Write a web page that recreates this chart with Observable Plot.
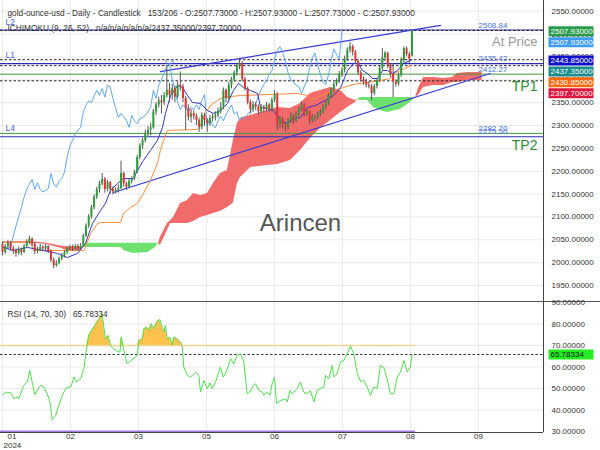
<!DOCTYPE html>
<html><head><meta charset="utf-8">
<script src="https://cdn.jsdelivr.net/npm/d3@7"></script>
<script src="https://cdn.jsdelivr.net/npm/@observablehq/plot@0.6"></script>
<style>
html,body{margin:0;padding:0;background:#fff;}
#wrap{width:600px;height:450px;overflow:hidden;}
#main svg,#rsi svg{display:block;}
#rsi{border-top:1px solid #555;}
</style></head><body><div id="wrap"><div id="main"></div><div id="rsi"></div></div>
<script>
// ---------------- data ----------------
const opens = [2040,2022,2035,2042,2030,2025,2020,2028,2022,2035,
2045,2052,2040,2025,2028,2033,2030,2035,2025,2005,
1993,1998,2008,2015,2022,2030,2033,2030,2035,2031,
2036,2058,2080,2100,2120,2143,2160,2172,2182,2160,
2175,2160,2155,2158,2162,2195,2172,2165,2178,2184,
2198,2230,2255,2267,2282,2290,2295,2330,2345,2354,
2350,2365,2377,2366,2381,2362,2388,2384,2359,2337,
2318,2326,2320,2311,2296,2322,2310,2304,2315,2318,
2322,2330,2340,2377,2359,2388,2400,2415,2430,2436,
2400,2380,2350,2335,2345,2340,2330,2340,2335,2345,
2335,2355,2368,2300,2315,2300,2295,2310,2320,2310,
2325,2335,2345,2325,2330,2310,2318,2315,2325,2330,
2340,2348,2365,2378,2390,2398,2412,2420,2445,2465,
2472,2460,2440,2415,2400,2395,2388,2385,2370,2385,
2398,2425,2448,2458,2432,2412,2395,2390,2410,2442,
2468,2455,2452];
const highs = [2045,2040,2048,2046,2036,2030,2034,2032,2040,2050,
2058,2054,2044,2034,2040,2038,2040,2037,2028,2010,
2004,2012,2020,2026,2034,2038,2038,2040,2040,2042,
2062,2085,2105,2125,2148,2165,2178,2195,2186,2180,
2178,2166,2164,2170,2222,2198,2176,2182,2188,2202,
2235,2260,2272,2290,2298,2305,2335,2350,2362,2366,
2372,2431,2392,2390,2386,2395,2417,2390,2364,2345,
2335,2332,2325,2316,2328,2326,2315,2322,2325,2330,
2338,2350,2382,2380,2395,2405,2420,2435,2447,2440,
2405,2384,2356,2352,2350,2345,2346,2344,2350,2348,
2360,2377,2372,2320,2318,2305,2315,2328,2324,2330,
2340,2352,2348,2335,2332,2324,2322,2330,2335,2345,
2352,2370,2382,2395,2402,2418,2426,2452,2470,2482,
2476,2464,2445,2420,2406,2402,2396,2390,2390,2402,
2430,2468,2462,2460,2436,2435,2400,2415,2448,2472,
2472,2460,2508.5];
const lows = [2015,2018,2030,2025,2018,2012,2016,2015,2020,2032,
2040,2035,2018,2020,2024,2026,2025,2020,2000,1987,
1990,1995,2004,2010,2018,2026,2024,2026,2026,2028,
2034,2055,2075,2095,2115,2138,2152,2168,2152,2155,
2150,2148,2150,2152,2160,2165,2158,2162,2172,2180,
2195,2225,2248,2262,2275,2278,2292,2322,2338,2325,
2344,2360,2350,2355,2350,2358,2375,2350,2289,2310,
2305,2312,2300,2285,2290,2298,2285,2298,2308,2310,
2316,2325,2335,2350,2355,2380,2395,2408,2422,2395,
2375,2345,2325,2328,2332,2322,2326,2328,2330,2328,
2330,2350,2289,2292,2292,2286,2290,2305,2302,2306,
2320,2330,2318,2320,2302,2305,2308,2312,2320,2326,
2335,2344,2360,2372,2385,2392,2405,2415,2440,2458,
2452,2435,2410,2395,2388,2382,2380,2354,2365,2380,
2394,2420,2440,2425,2405,2361,2384,2386,2405,2436,
2450,2436,2450];
const closes = [2022,2035,2042,2030,2025,2020,2028,2022,2035,2045,
2052,2040,2025,2028,2033,2030,2035,2025,2005,1993,
1998,2008,2015,2022,2030,2033,2030,2035,2031,2036,
2058,2080,2100,2120,2143,2160,2172,2182,2160,2175,
2160,2155,2158,2162,2195,2172,2165,2178,2184,2198,
2230,2255,2267,2282,2290,2295,2330,2345,2354,2350,
2365,2377,2366,2381,2362,2388,2384,2359,2337,2318,
2326,2320,2311,2296,2322,2310,2304,2315,2318,2322,
2330,2340,2377,2359,2388,2400,2415,2430,2436,2400,
2380,2350,2335,2345,2340,2330,2340,2335,2345,2335,
2355,2368,2300,2315,2300,2295,2310,2320,2310,2325,
2335,2345,2325,2330,2310,2318,2315,2325,2330,2340,
2348,2365,2378,2390,2398,2412,2420,2445,2465,2472,
2460,2440,2415,2400,2395,2388,2385,2370,2385,2398,
2425,2448,2458,2432,2412,2395,2390,2410,2442,2468,
2455,2445,2507.93];

const tenkanIdx = [0,4.1,9.3,15.2,20.4,24.1,27.8,30.8,33.4,36.4,38.2,40.1,42.7,44.9,48.6,50.1,52.3,54.9,57.5,59.4,60.5,62.4,65,66.8,68.7,70.5,73.5,76.1,78.3,80.9,83.5,85.7,87.6,89.5,92.1,94.7,95.8,98.4,100.6,103.2,105.8,108,110.6,113.2,116.2,119.9,122.9,125.5,128.1,130.3,132.1,133.6,135.5,137.3,139.2,141.1,142.9,144.8,146.6,148.8,151.4,152];
const tenkanVal = [2033.9,2026.6,2033.2,2026.6,2020,2011.3,2020,2041.9,2085.6,2114,2129.4,2157.8,2173.1,2184,2184,2201.6,2223.5,2245.3,2267.2,2295.6,2326.3,2365.6,2387.5,2383.1,2365.6,2350.3,2348.1,2332.8,2326.3,2332.8,2348.1,2376.6,2391.9,2383.1,2376.6,2370,2339.4,2337.2,2332.8,2311,2304.4,2315.3,2317.5,2339.4,2343.8,2354.7,2365.6,2383.1,2420.3,2435.6,2435.6,2420.3,2413.7,2402.8,2402.8,2420.3,2420.3,2413.7,2420.3,2435.6,2442.2,2443.85];

const kijunIdx = [0,10.4,11.5,30.1,30.8,32.7,35.3,36.4,43.8,44.9,47.5,50.1,52.3,54.9,56,57.5,58.6,59.8,61.2,72.4,73.5,75.4,77.2,79.8,81.7,88.3,109.5,113.2,114.3,118,120.6,122.9,126.6,130.3,140.3,144,145.9,147.7,151.8,152];
const kijunVal = [2044.8,2044.8,2026.6,2026.6,2033.2,2063.8,2085.6,2087.9,2087.9,2107.5,2120.6,2129.4,2151.3,2179.7,2195,2216.9,2245.3,2267.2,2289.1,2291.3,2300,2328.5,2343.8,2354.7,2361.3,2365.6,2370,2365.6,2354.7,2365.6,2370,2376.6,2383.1,2389.7,2398.5,2402.8,2415.9,2420.3,2431.3,2430.85];

const cloudIdx = [0,10,16,22,24,29,30,31,44,45,48.6,54,56.8,57.9,58.6,61.2,62.4,63.5,66.1,68.7,70.9,73.5,76.1,78.3,80.9,83.5,85.7,87.2,88.3,89.1,92.1,98.4,102.1,106.9,110.6,114.3,118,121.8,125.5,128.1,131,131.8,132.9,135.5,137.7,140.3,142.9,147.7,151.4,153.3,154.4,156.3,160,163.7,167,168.9,172.6,178];
const spanA = [2045,2046,2043,2036,2035,2035,2034,2033,2033,2026.6,2020,2022,2033,2042.6,2055,2085.6,2092,2098.8,2129.4,2136,2151.3,2146.9,2151.3,2173.1,2195,2201.6,2267.2,2304.4,2315,2317.5,2322,2332.8,2339.4,2337.2,2348.1,2370,2376.6,2383.1,2376.6,2361.3,2354.7,2357,2354.7,2354.7,2339.4,2332.8,2328.5,2335,2350.3,2361.3,2380.9,2405,2405,2402.8,2405,2413.7,2415.9,2415.9];
const spanB = [2042,2043,2040,2031,2026,2026,2034,2042.6,2042.6,2042.6,2042.6,2042.6,2042.6,2042.6,2037.5,2070,2085.6,2085.6,2085.6,2085.6,2090,2098.8,2103,2107.5,2112,2120.6,2130,2173.1,2186.3,2190,2208.2,2212.5,2214.7,2223.5,2245.3,2271.6,2293.5,2311,2328.5,2339.4,2350.3,2357,2361.3,2361.3,2361.3,2361.3,2361.3,2361.3,2361.3,2361.3,2365.6,2383.1,2387.5,2387.5,2394.1,2394.1,2398.4,2398.4];

const rsiIdx = [0,1.1,3,4.2,5.4,6,7.9,9.2,10.1,11,12,14.1,15.3,16.6,17.6,18.4,19.7,20.9,22.2,23.4,25.5,26.5,27.5,29,30.2,31.2,32,33.9,35.1,37,38.2,39.2,40.1,41.3,42.6,43.6,44.1,45,46.3,48.8,50,50.6,51.9,52.5,53.5,54.3,55.2,56.2,57.2,58.4,59.3,59.9,60.5,61.1,62.1,63,63.6,64.9,66.1,66.7,67.3,68.6,69.8,71.7,72.9,73.5,74.8,76,77,77.8,79.1,80.9,81.9,82.8,84.7,85.9,87.1,88.4,89.6,90.8,91.8,93.1,93.9,95.2,96.4,97,98.3,99.3,100.1,101,101.7,103.2,105.1,105.7,106.7,107.5,109.4,110.6,111.8,113.1,114.3,115.6,116.8,118,119.3,119.9,121.1,122.4,123,124.2,125.5,126.7,127.9,129.2,130.4,131.6,132.9,134.1,135.4,136.6,137.8,139.1,140.3,141.5,142.8,144,145.3,146.5,147.7,149,150.2,151.4,152];
const rsiVal = [46.8,48.3,48,45.2,46,45.2,51.4,53,58.4,53,47.1,51.4,50.6,47.5,43.7,35.6,37.4,42.1,46.8,49.9,51.1,55.3,53,54.5,59.2,68.5,74.7,78.5,80.9,84.7,73.1,74.7,70,68.5,67.2,66.9,73.9,67.7,61.5,64.1,65.4,72.3,73.1,77.8,78.5,77,80.1,77.8,80.9,82.1,78.5,76.2,79.3,73.1,73.9,70.3,73.9,73.1,71.5,70,59.9,56.1,55.3,57.6,56.1,48.3,53.7,49.9,52.6,49.9,53,59.9,55.3,56.8,63.8,61.5,65.4,66.1,62.3,47.5,48.3,51.4,52.2,49.1,48.3,46.8,48.3,46.8,52.2,55.3,42.9,44.4,45.2,43.7,49.1,47.5,49.9,53,48.3,47.5,49.1,43.7,49.1,49.9,50.6,56.1,54.5,60.7,55.3,56.8,62.3,63,66.1,69.7,66.1,57.6,53.3,53.7,50.6,46.8,50.6,49.9,60.7,59.9,54.5,47.5,47.5,55.3,57.6,63,57.6,59.9,65.78334];

const channelUpper = [{i:58.6, p:2418}, {i:162.6, p:2519}];
const channelLower = [{i:41.2, p:2153.5}, {i:181.1, p:2413.7}];

const blueLevels = [2508.84, 2435.42, 2275.50];
const blueNames = ["L2", "L1", "L4"];
const greenLevels = [2412.27, 2282.70];
const greenNames = ["TP1", "TP2"];
const dashedLevels = [2507.93, 2443.85, 2430.85, 2397.70];
const levelTexts = ["2508.84", "2435.42", "2412.27", "2282.70", "2275.50"];
const levelTextVals = [2508.84, 2435.42, 2412.27, 2282.70, 2275.50];

const badgeVals = [2507.93, 2507.93, 2443.85, 2437.35, 2430.85, 2397.70];
const badgeColors = ["#2a9d4c", "#3d9cf2", "#1010c8", "#1a8c8c", "#ff6a10", "#dc1840"];

const priceTicks = [1950,2000,2050,2100,2150,2200,2250,2300,2350,2400,2450,2500,2550];
const rsiTicks = [30,40,50,60,70,80,90];
const xTickIdx = [0,25.24,50.48,75.72,100.97,126.2,151.45,176.69];
const xTickLabels = ["01","02","03","05","06","07","08","09"];

const TITLE = "gold-ounce-usd - Daily - Candlestick   153/206 - O:2507.73000 - H:2507.93000 - L:2507.73000 - C:2507.93000";
const ICHI = "ICHIMOKU (9, 26, 52)   n/a/n/a/n/a/n/a/2437.35000/2397.70000";
const RSI_TITLE = "RSI (14, 70, 30)   65.78334";
const RSI_LAST = 65.78334;

// ---------------- layout ----------------
const FONT = "'Liberation Sans', Arial, sans-serif";
const X_DOMAIN = [-0.742, 200.82];
const Y_DOMAIN = [1915, 2573.4];
const MAIN_H = 301, RSI_H = 148;
const UP = "#2e9c3c", DOWN = "#e03535";

const candles = closes.map((c, i) => ({i, o: opens[i], h: highs[i], l: lows[i], c}));
const chikou = closes.slice(26).map((c, k) => ({i: k, v: c}));
const tenkan = tenkanIdx.map((i, k) => ({i, v: tenkanVal[k]}));
const kijun = kijunIdx.map((i, k) => ({i, v: kijunVal[k]}));
const cloud = cloudIdx.map((i, k) => ({i, A: spanA[k], B: spanB[k]}));
const rsi = rsiIdx.map((i, k) => ({i, v: rsiVal[k]}));
const blues = blueLevels.map((v, k) => ({v, name: blueNames[k]}));
const greens = greenLevels.map((v, k) => ({v, name: greenNames[k]}));
const lvlTexts = levelTexts.map((t, k) => ({t, v: levelTextVals[k], i: xTickIdx[7]}));
const xTicks = xTickIdx.map((i, k) => ({i, t: xTickLabels[k]}));

// badge stacking (avoid overlaps, like the original's price tags)
const yPix = d3.scaleLinear(Y_DOMAIN, [MAIN_H, 0]);
let prev = -Infinity;
const badges = badgeVals.map((v, k) => {
  let p = Math.max(yPix(v) + 0.8, prev + 10.9);
  prev = p;
  return {yv: yPix.invert(p), color: badgeColors[k], label: v.toFixed(5)};
});
const badgeSymbol = {draw(ctx) { ctx.moveTo(-22.5, -5); ctx.lineTo(22.5, -5); ctx.lineTo(22.5, 5); ctx.lineTo(-22.5, 5); ctx.closePath(); }};

const main = Plot.plot({
  width: 600, height: MAIN_H,
  marginLeft: 0, marginRight: 57, marginTop: 0, marginBottom: 0,
  x: {domain: X_DOMAIN, axis: null},
  y: {domain: Y_DOMAIN, range: [MAIN_H, 0], axis: "right", ticks: priceTicks, tickFormat: d3.format(".5f"), tickSize: 0, tickPadding: 8, label: null},
  color: {type: "identity"},
  style: {fontFamily: FONT, fontSize: "8px", color: "#333", background: "#fff", overflow: "visible"},
  marks: [
    Plot.ruleY(priceTicks, {stroke: "#e9e9e9"}),
    Plot.ruleX(xTickIdx, {stroke: "#e9e9e9"}),
    Plot.text(["Arincen"], {text: d => d, frameAnchor: "middle", dx: 28.5, dy: 72.5, fontSize: 24, fill: "#555"}),
    Plot.areaY(cloud, {x: "i", y1: "B", y2: d => Math.max(d.A, d.B), fill: "#f26b6b"}),
    Plot.areaY(cloud, {x: "i", y1: "A", y2: d => Math.max(d.A, d.B), fill: "#6ee06e"}),
    Plot.ruleY(greens, {y: "v", stroke: "#3f9a3f", strokeWidth: 1}),
    Plot.ruleY(blues, {y: "v", stroke: "#2b2bb5", strokeWidth: 1.1}),
    Plot.ruleY(dashedLevels, {stroke: "#222", strokeDasharray: "2.5,2", strokeWidth: 1}),
    Plot.line(channelUpper, {x: "i", y: "p", stroke: "#3a3ad8", strokeWidth: 1.2}),
    Plot.line(channelLower, {x: "i", y: "p", stroke: "#3a3ad8", strokeWidth: 1.2}),
    Plot.line(chikou, {x: "i", y: "v", stroke: "#5fa8f0", strokeWidth: 1}),
    Plot.line(kijun, {x: "i", y: "v", stroke: "#ff8c3c", strokeWidth: 1}),
    Plot.line(tenkan, {x: "i", y: "v", stroke: "#3434c8", strokeWidth: 1}),
    Plot.ruleX(candles, {x: "i", y1: "l", y2: "h", stroke: "#555", strokeWidth: 1}),
    Plot.ruleX(candles, {x: "i", y1: "o", y2: "c", stroke: d => d.c >= d.o ? UP : DOWN, strokeWidth: 2}),
    Plot.text(blues, {y: "v", text: "name", frameAnchor: "left", dx: 5, dy: -8, textAnchor: "start", fontSize: 8.5, fill: "#4a68d0"}),
    Plot.text([{i: 62, p: 2441}], {x: "i", y: "p", text: () => "L3", fontSize: 8, fill: "#4a68d0"}),
    Plot.text(lvlTexts, {x: "i", y: "v", text: "t", dy: -5, textAnchor: "start", fontSize: 8, fill: "#4a6fe0"}),
    Plot.text(greens, {y: "v", text: "name", frameAnchor: "right", dx: -6, dy: 12, textAnchor: "end", fontSize: 14, fill: "#2f8f2f"}),
    Plot.text([dashedLevels[0]], {y: d => d, text: () => "At Price", frameAnchor: "right", dx: -6, dy: 11, textAnchor: "end", fontSize: 13, fill: "#9a9a9a"}),
    Plot.text([TITLE], {text: d => d, frameAnchor: "top-left", dx: 7, dy: 10, textAnchor: "start", fontSize: 8.3, fill: "#333"}),
    Plot.text([ICHI], {text: d => d, frameAnchor: "top-left", dx: 7, dy: 25, textAnchor: "start", fontSize: 8.3, fill: "#333"}),
    Plot.ruleX([X_DOMAIN[1]], {stroke: "#444"}),
    Plot.dot(badges, {y: "yv", frameAnchor: "right", dx: 27.5, r: 5, symbol: badgeSymbol, fill: "color"}),
    Plot.text(badges, {y: "yv", text: "label", frameAnchor: "right", dx: 7, textAnchor: "start", fontSize: 8, fill: "#fff"})
  ]
});
document.getElementById("main").appendChild(main);

const rsiPlot = Plot.plot({
  width: 600, height: RSI_H,
  marginLeft: 0, marginRight: 57, marginTop: 0, marginBottom: 18,
  x: {domain: X_DOMAIN, axis: null},
  y: {domain: [29.5, 90], range: [130, 0], axis: "right", ticks: rsiTicks, tickFormat: d3.format(".5f"), tickSize: 0, tickPadding: 8, label: null},
  color: {type: "identity"},
  style: {fontFamily: FONT, fontSize: "8px", color: "#333", background: "#fff", overflow: "visible"},
  marks: [
    Plot.ruleY([40, 50, 60, 70, 80], {stroke: "#e9e9e9"}),
    Plot.ruleX(xTickIdx, {stroke: "#e9e9e9"}),
    Plot.areaY(rsi, {x: "i", y1: 70, y2: d => Math.max(d.v, 70), fill: "#ffc24f"}),
    Plot.ruleY([70], {x1: X_DOMAIN[0], x2: 153.3, stroke: "#f2d590", strokeWidth: 1.5}),
    Plot.ruleY([30], {x1: X_DOMAIN[0], x2: 153.3, stroke: "#a57ae6", strokeWidth: 2}),
    Plot.ruleY([RSI_LAST], {stroke: "#333", strokeDasharray: "2.5,2"}),
    Plot.line(rsi, {x: "i", y: "v", stroke: "#4fe04f", strokeWidth: 1}),
    Plot.text([RSI_TITLE], {text: d => d, frameAnchor: "top-left", dx: 7, dy: 9, textAnchor: "start", fontSize: 8.3, fill: "#333"}),
    Plot.ruleX([X_DOMAIN[1]], {stroke: "#444"}),
    Plot.ruleY([29.5], {stroke: "#444"}),
    Plot.text(xTicks.slice(0, 1), {x: "i", text: "t", frameAnchor: "bottom", dx: 5, dy: 6.5, textAnchor: "start", fontSize: 8, fill: "#333"}),
    Plot.text(xTicks.slice(1), {x: "i", text: "t", frameAnchor: "bottom", dy: 6.5, fontSize: 8, fill: "#333"}),
    Plot.text(["2024"], {text: d => d, x: () => xTickIdx[0], frameAnchor: "bottom", dx: 1, dy: 15, textAnchor: "start", fontSize: 8, fill: "#333"}),
    Plot.dot([RSI_LAST], {y: d => d, frameAnchor: "right", dx: 27.5, r: 5, symbol: badgeSymbol, fill: "#22ee22"}),
    Plot.text([RSI_LAST], {y: d => d, text: d => d.toFixed(5), frameAnchor: "right", dx: 7, textAnchor: "start", fontSize: 8, fill: "#111"})
  ]
});
document.getElementById("rsi").appendChild(rsiPlot);
</script>
</body></html>
